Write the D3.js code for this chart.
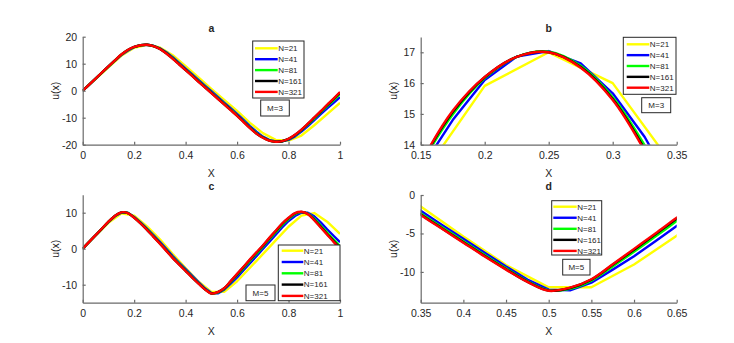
<!DOCTYPE html>
<html><head><meta charset="utf-8">
<script src="https://cdn.jsdelivr.net/npm/d3@7"></script>
<style>
body{margin:0;background:#fff}
svg{display:block}
text{font-family:Arial,"Liberation Sans",Helvetica,sans-serif;fill:#262626}
</style>
</head><body>
<svg id="chart" width="734" height="343"></svg>
<script>
// ---------- data ----------
const seriesNames = ["N=21", "N=41", "N=81", "N=161", "N=321"];
const seriesColors = ["#ffff00", "#0000ff", "#00ff00", "#000000", "#ff0000"];

const gridCoarse = [0,0.05,0.1,0.15,0.2,0.25,0.3,0.35,0.4,0.45,0.5,0.55,0.6,0.65,0.7,0.75,0.8,0.85,0.9,0.95,1];
const gridFine = [0,0.025,0.05,0.075,0.1,0.125,0.15,0.175,0.2,0.225,0.25,0.275,0.3,0.325,0.35,0.375,0.4,0.425,0.45,0.475,0.5,
                  0.525,0.55,0.575,0.6,0.625,0.65,0.675,0.7,0.725,0.75,0.775,0.8,0.825,0.85,0.875,0.9,0.925,0.95,0.975,1];

// M = 3
const m3N21  = [0,4.3,8.6,12.93,15.91,17.0,16.0,13.16,9.1,4.9,0.7,-3.4,-7.5,-11.9,-15.7,-18.2,-18.5,-16.6,-12.8,-8.7,-4.5];
const m3N41  = [0,2.2,4.45,6.7,8.9,11.1,13.2,14.8,16.1,16.86,17.04,16.64,15.67,14.25,12.4,10.3,8.2,6.1,4.0,1.9,-0.2,
                -2.3,-4.4,-6.5,-8.6,-10.8,-13.1,-15.2,-17.0,-18.2,-18.8,-18.8,-18.2,-16.9,-15.1,-13.1,-10.9,-8.7,-6.5,-4.5,-2.4];
const m3N81  = [0,2.23,4.48,6.73,8.96,11.16,13.32,14.98,16.16,16.85,17.02,16.56,15.54,13.98,12.04,9.94,7.84,5.74,3.58,1.48,-0.62,
                -2.72,-4.82,-6.92,-9.02,-11.28,-13.58,-15.62,-17.24,-18.38,-18.86,-18.74,-17.96,-16.54,-14.68,-12.56,-10.3,-8.04,-5.72,-3.54,-1.26];
const m3N161 = [0,2.24,4.49,6.74,8.99,11.19,13.38,15.06,16.19,16.85,17.0,16.52,15.48,13.85,11.87,9.77,7.67,5.57,3.38,1.28,-0.82,
                -2.92,-5.02,-7.12,-9.22,-11.5,-13.8,-15.82,-17.35,-18.46,-18.89,-18.71,-17.85,-16.37,-14.48,-12.31,-10.02,-7.73,-5.36,-3.09,-0.73];
const m3N321 = [0,2.25,4.5,6.75,9.0,11.2,13.4,15.1,16.2,16.85,17.0,16.5,15.45,13.8,11.8,9.7,7.6,5.5,3.3,1.2,-0.9,
                -3.0,-5.1,-7.2,-9.3,-11.6,-13.9,-15.9,-17.4,-18.5,-18.9,-18.7,-17.8,-16.3,-14.4,-12.2,-9.9,-7.6,-5.2,-2.9,-0.5];

// M = 5
const m5N21  = [0,3.6,7.2,9.8,9.2,6.2,2.6,-1.5,-5.4,-9.1,-12.0,-12.0,-9.04,-5.3,-1.5,2.3,6.1,9.2,9.9,7.5,4.1];
const m5N41  = [0,1.85,3.7,5.55,7.4,9.0,10.0,10.0,8.8,7.3,5.6,3.8,1.9,-0.05,-2.04,-3.9,-5.7,-7.5,-9.3,-11.0,-12.3,
                -12.4,-11.4,-9.7,-7.96,-6.0,-4.04,-2.1,-0.1,1.9,3.9,5.9,7.7,9.1,10.0,10.0,9.0,7.3,5.4,3.6,1.8];
const m5N81  = [0,1.88,3.73,5.58,7.46,9.06,10.06,9.94,8.68,7.12,5.36,3.5,1.6,-0.38,-2.38,-4.2,-6.0,-7.8,-9.54,-11.18,-12.39,
                -12.19,-11.13,-9.28,-7.38,-5.4,-3.39,-1.44,0.5,2.56,4.56,6.56,8.24,9.58,10.15,9.76,8.34,6.46,4.5,2.58,0.72];
const m5N161 = [0,1.89,3.74,5.59,7.49,9.09,10.09,9.91,8.62,7.04,5.25,3.36,1.46,-0.53,-2.53,-4.34,-6.14,-7.94,-9.65,-11.26,-12.43,
                -12.09,-11.0,-9.08,-7.12,-5.12,-3.09,-1.13,0.78,2.87,4.87,6.87,8.49,9.8,10.22,9.65,8.03,6.07,4.08,2.1,0.22];
const m5N321 = [0,1.9,3.75,5.6,7.5,9.1,10.1,9.9,8.6,7.0,5.2,3.3,1.4,-0.6,-2.6,-4.4,-6.2,-8.0,-9.7,-11.3,-12.45,
                -12.05,-10.95,-9.0,-7.0,-5.0,-2.96,-1.0,0.9,3.0,5.0,7.0,8.6,9.9,10.25,9.6,7.9,5.9,3.9,1.9,0.0];

const ticksA_x = [0,0.2,0.4,0.6,0.8,1];
const ticksA_y = [-20,-10,0,10,20];
const ticksB_x = [0.15,0.2,0.25,0.3,0.35];
const ticksB_y = [14,15,16,17];
const ticksC_x = [0,0.2,0.4,0.6,0.8,1];
const ticksC_y = [-10,0,10];
const ticksD_x = [0.35,0.4,0.45,0.5,0.55,0.6,0.65];
const ticksD_y = [-10,-5,0];

// ---------- build ----------
function mkSeries(vals) {
  return vals.map((v, i) => {
    const grid = (i === 0) ? gridCoarse : gridFine;
    return { name: seriesNames[i], color: seriesColors[i], smooth: i >= 2,
             pts: v.map((y, j) => [grid[j], y]) };
  });
}
const seriesM3 = mkSeries([m3N21, m3N41, m3N81, m3N161, m3N321]);
const seriesM5 = mkSeries([m5N21, m5N41, m5N81, m5N161, m5N321]);

const panels = [
  { id:"a", title:"a", series:seriesM3, xd:[0,1], yd:[-20,20], xr:[82.7,340], yr:[144.7,36.7],
    xt:ticksA_x, yt:ticksA_y, m:"M=3",
    leg:{x:252.7,y:41,w:51.3,h:57,y0:48.3,dy:10.9,l1:255,l2:277.7},
    mb:{x:260.7,y:100,w:28.6,h:16} },
  { id:"b", title:"b", series:seriesM3, xd:[0.15,0.35], yd:[14,17.5], xr:[420.7,676.7], yr:[144.7,36.9],
    xt:ticksB_x, yt:ticksB_y, m:"M=3",
    leg:{x:623.3,y:37.3,w:52.7,h:57,y0:44.3,dy:10.85,l1:626.7,l2:649.3},
    mb:{x:641.7,y:97.7,w:29,h:15} },
  { id:"c", title:"c", series:seriesM5, xd:[0,1], yd:[-15,15], xr:[82.7,340], yr:[302.7,194.7],
    xt:ticksC_x, yt:ticksC_y, m:"M=5",
    leg:{x:278.3,y:245,w:61.7,h:55.7,y0:250.7,dy:11.3,l1:281.7,l2:303.3},
    mb:{x:246,y:285,w:29,h:15.7} },
  { id:"d", title:"d", series:seriesM5, xd:[0.35,0.65], yd:[-14,0], xr:[420.7,676.7], yr:[302.7,195],
    xt:ticksD_x, yt:ticksD_y, m:"M=5",
    leg:{x:551.7,y:200.7,w:50,h:54.3,y0:206.7,dy:11.05,l1:553.3,l2:576.7},
    mb:{x:562.7,y:259.3,w:27.3,h:15.7} }
];

const svg = d3.select("#chart");
const fmt = v => String(+v.toFixed(2));
const axisColor = "#262626";
const axisLineColor = "#6a6a6a";

panels.forEach(p => {
  const x = d3.scaleLinear().domain(p.xd).range(p.xr);
  const y = d3.scaleLinear().domain(p.yd).range(p.yr);
  const g = svg.append("g");

  g.append("clipPath").attr("id", "clip" + p.id).append("rect")
    .attr("x", p.xr[0]).attr("y", p.yr[1]).attr("width", p.xr[1] - p.xr[0]).attr("height", p.yr[0] - p.yr[1]);

  const lines = g.append("g").attr("clip-path", `url(#clip${p.id})`);
  p.series.forEach(s => {
    const line = d3.line().x(d => x(d[0])).y(d => y(d[1]))
      .curve(s.smooth ? d3.curveCatmullRom.alpha(0.5) : d3.curveLinear);
    lines.append("path").attr("d", line(s.pts)).attr("fill", "none")
      .attr("stroke", s.color).attr("stroke-width", 2.4).attr("stroke-linejoin", "round");
  });

  // axes
  const xa = g.append("g").attr("transform", `translate(0,${p.yr[0]})`)
    .call(d3.axisBottom(x).tickValues(p.xt).tickFormat(fmt).tickSizeInner(-3).tickSizeOuter(0).tickPadding(6.5));
  const ya = g.append("g").attr("transform", `translate(${p.xr[0]},0)`)
    .call(d3.axisLeft(y).tickValues(p.yt).tickFormat(fmt).tickSizeInner(-3).tickSizeOuter(0).tickPadding(5.5));
  [xa, ya].forEach(a => {
    a.selectAll("path,line").attr("stroke", axisLineColor).attr("stroke-width", 1.2);
    a.selectAll("text").attr("font-size", 10.5).attr("fill", axisColor)
      .style("font-family", 'Arial,"Liberation Sans",Helvetica,sans-serif');
  });

  // titles and labels
  const cx = (p.xr[0] + p.xr[1]) / 2;
  g.append("text").attr("x", cx).attr("y", p.yr[1] - 5).attr("text-anchor", "middle")
    .attr("font-size", 10.5).attr("font-weight", "bold").attr("fill", "#000").text(p.title);
  g.append("text").attr("x", cx).attr("y", p.yr[0] + 32.5).attr("text-anchor", "middle")
    .attr("font-size", 10.5).text("X");
  g.append("text").attr("transform", `translate(${p.xr[0] - 24},${(p.yr[0] + p.yr[1]) / 2}) rotate(-90)`)
    .attr("text-anchor", "middle").attr("font-size", 10.5).text("u(x)");

  // legend
  const L = p.leg;
  const lg = g.append("g");
  lg.append("rect").attr("x", L.x).attr("y", L.y).attr("width", L.w).attr("height", L.h)
    .attr("fill", "#fff").attr("stroke", axisColor).attr("stroke-width", 1);
  p.series.forEach((s, i) => {
    const yy = L.y0 + i * L.dy;
    lg.append("line").attr("x1", L.l1).attr("x2", L.l2).attr("y1", yy).attr("y2", yy)
      .attr("stroke", s.color).attr("stroke-width", 2.4);
    lg.append("text").attr("x", L.l2 + 0.5).attr("y", yy).attr("dy", "0.35em")
      .attr("font-size", 8).attr("fill", "#000").text(s.name);
  });

  // M box
  const M = p.mb;
  g.append("rect").attr("x", M.x).attr("y", M.y).attr("width", M.w).attr("height", M.h)
    .attr("fill", "#fff").attr("stroke", axisColor).attr("stroke-width", 1);
  g.append("text").attr("x", M.x + M.w / 2).attr("y", M.y + M.h / 2).attr("dy", "0.35em")
    .attr("text-anchor", "middle").attr("font-size", 8).attr("fill", "#000").text(p.m);
});
</script>
</body></html>
